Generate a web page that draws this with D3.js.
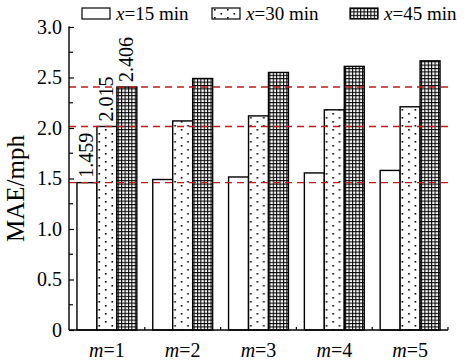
<!DOCTYPE html>
<html>
<head>
<meta charset="utf-8">
<script src="https://cdn.jsdelivr.net/npm/d3@7"></script>
<style>
  body { margin: 0; background: #fff; }
</style>
</head>
<body>
<svg id="chart" width="469" height="362" font-family="Liberation Serif"></svg>
<script>
// data
const groups = ["1", "2", "3", "4", "5"];
const seriesKeys = ["15", "30", "45"];
const mae15 = [1.459, 1.49, 1.515, 1.555, 1.58];
const mae30 = [2.015, 2.07, 2.12, 2.18, 2.21];
const mae45 = [2.406, 2.49, 2.55, 2.61, 2.665];
const refLines = [1.459, 2.015, 2.406];
const yTicks = [0, 0.5, 1.0, 1.5, 2.0, 2.5, 3.0];

const width = 469, height = 362;
const margin = {top: 27, right: 21, bottom: 32, left: 69};
const serif = 'Liberation Serif';

const svg = d3.select('#chart');

const x0 = d3.scaleBand()
  .domain(groups)
  .range([margin.left, width - margin.right])
  .paddingInner(0.21)
  .paddingOuter(0.105);

const x1 = d3.scaleBand()
  .domain(seriesKeys)
  .range([0, x0.bandwidth()]);

const y = d3.scaleLinear()
  .domain([0, 3])
  .range([height - margin.bottom, margin.top]);

// patterns
const defs = svg.append('defs');
const dots = defs.append('pattern')
  .attr('id', 'dots').attr('patternUnits', 'userSpaceOnUse')
  .attr('width', 13).attr('height', 8);
dots.append('rect').attr('width', 13).attr('height', 8).attr('fill', '#fff');
dots.append('rect').attr('x', 2).attr('y', 1).attr('width', 1.6).attr('height', 1.6).attr('fill', '#000');
dots.append('rect').attr('x', 8.5).attr('y', 5).attr('width', 1.6).attr('height', 1.6).attr('fill', '#000');

const grid = defs.append('pattern')
  .attr('id', 'grid').attr('patternUnits', 'userSpaceOnUse')
  .attr('width', 3.4).attr('height', 3.4);
grid.append('rect').attr('width', 3.4).attr('height', 3.4).attr('fill', '#fff');
grid.append('path').attr('d', 'M0,0.5H3.4M0.5,0V3.4')
  .attr('stroke', '#000').attr('stroke-width', 1.1);

const fills = {"15": '#fff', "30": 'url(#dots)', "45": 'url(#grid)'};

const table = groups.map((g, i) => ({
  group: g,
  values: [
    {key: "15", v: mae15[i]},
    {key: "30", v: mae30[i]},
    {key: "45", v: mae45[i]}
  ]
}));

// bars
svg.append('g')
  .selectAll('g')
  .data(table)
  .join('g')
  .attr('transform', d => `translate(${x0(d.group)},0)`)
  .selectAll('rect')
  .data(d => d.values)
  .join('rect')
  .attr('x', d => x1(d.key))
  .attr('y', d => y(d.v))
  .attr('width', x1.bandwidth())
  .attr('height', d => y(0) - y(d.v))
  .attr('fill', d => fills[d.key])
  .attr('stroke', '#000')
  .attr('stroke-width', 1.4);

// value labels on the first group
svg.append('g')
  .selectAll('text')
  .data(table[0].values)
  .join('text')
  .attr('transform', d => {
    const cx = x0(groups[0]) + x1(d.key) + x1.bandwidth() / 2 + 6;
    return `translate(${cx},${y(d.v) - 5}) rotate(-90)`;
  })
  .attr('font-family', serif)
  .attr('font-size', 20)
  .text(d => d.v.toFixed(3));

// dashed reference lines
svg.append('g')
  .selectAll('line')
  .data(refLines)
  .join('line')
  .attr('x1', margin.left).attr('x2', width - margin.right)
  .attr('y1', d => y(d)).attr('y2', d => y(d))
  .attr('stroke', '#c01a1a')
  .attr('stroke-width', 1.4)
  .attr('stroke-dasharray', '7,5');

// y axis
const yAxis = svg.append('g')
  .attr('transform', `translate(${margin.left},0)`)
  .call(d3.axisLeft(y).tickValues(yTicks).tickSize(-5).tickPadding(7)
    .tickFormat(d => d === 0 ? '0' : d3.format('.1f')(d)));
yAxis.attr('font-family', serif).attr('font-size', 20);
yAxis.select('.domain').attr('d', `M-0.5,${y(3)}H0V${y(0)}`).attr('stroke-width', 1.4);
yAxis.selectAll('.tick line').attr('stroke-width', 1.2);

// minor y ticks
svg.append('g')
  .selectAll('line')
  .data(d3.range(0.25, 3, 0.5))
  .join('line')
  .attr('x1', margin.left).attr('x2', margin.left + 4)
  .attr('y1', d => y(d)).attr('y2', d => y(d))
  .attr('stroke', '#000').attr('stroke-width', 1.2);

// x axis
const xAxis = svg.append('g')
  .attr('transform', `translate(0,${y(0)})`);
xAxis.append('line')
  .attr('x1', margin.left).attr('x2', width - margin.right)
  .attr('stroke', '#000').attr('stroke-width', 1.6);
xAxis.selectAll('line.tk')
  .data(groups)
  .join('line')
  .attr('class', 'tk')
  .attr('x1', d => x0(d) + x0.bandwidth() + x0.step() * x0.paddingInner() / 2)
  .attr('x2', d => x0(d) + x0.bandwidth() + x0.step() * x0.paddingInner() / 2)
  .attr('y1', 0).attr('y2', -3)
  .attr('stroke', '#000').attr('stroke-width', 1.2);
const xl = xAxis.selectAll('text')
  .data(groups)
  .join('text')
  .attr('x', d => x0(d) + x0.bandwidth() / 2)
  .attr('y', 27)
  .attr('text-anchor', 'middle')
  .attr('font-family', serif)
  .attr('font-size', 20);
xl.append('tspan').attr('font-style', 'italic').text('m');
xl.append('tspan').text(d => '=' + d);

// y title
svg.append('text')
  .attr('transform', `translate(24,${(y(0) + y(3)) / 2 + 10}) rotate(-90)`)
  .attr('text-anchor', 'middle')
  .attr('font-family', serif)
  .attr('font-size', 25)
  .text('MAE/mph');

// legend
const legendX = [82, 212, 350];
const legend = svg.append('g')
  .selectAll('g')
  .data(seriesKeys)
  .join('g')
  .attr('transform', (d, i) => `translate(${legendX[i]},8)`);
legend.append('rect')
  .attr('width', 28).attr('height', 11)
  .attr('fill', d => fills[d])
  .attr('stroke', '#000').attr('stroke-width', 1.2);
const lt = legend.append('text')
  .attr('x', 34).attr('y', 12)
  .attr('font-family', serif)
  .attr('font-size', 19);
lt.append('tspan').attr('font-style', 'italic').text('x');
lt.append('tspan').text(d => '=' + d + ' min');
</script>
</body>
</html>
